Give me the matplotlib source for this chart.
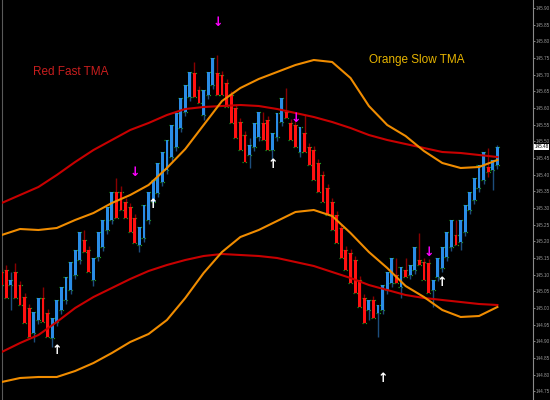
import matplotlib
matplotlib.use('Agg')
import matplotlib.pyplot as plt
import numpy as np

# candle data, one entry per bar
opens = [145.108, 145.114, 145.069, 145.108, 145.069, 145.033, 145.000, 144.925, 144.964, 145.030,
         144.985, 144.910, 144.958, 144.994, 145.024, 145.054, 145.099, 145.144, 145.204, 145.174,
         145.084, 145.153, 145.183, 145.234, 145.264, 145.348, 145.348, 145.318, 145.303, 145.270,
         145.189, 145.210, 145.264, 145.318, 145.345, 145.378, 145.414, 145.453, 145.483, 145.540,
         145.588, 145.633, 145.705, 145.654, 145.579, 145.639, 145.669, 145.705, 145.699, 145.675,
         145.639, 145.600, 145.558, 145.519, 145.459, 145.483, 145.513, 145.555, 145.564, 145.474,
         145.513, 145.558, 145.588, 145.555, 145.549, 145.468, 145.525, 145.483, 145.474, 145.435,
         145.399, 145.360, 145.318, 145.279, 145.240, 145.174, 145.165, 145.144, 145.084, 145.030,
         144.994, 145.024, 144.985, 144.994, 145.054, 145.075, 145.099, 145.063, 145.114, 145.099,
         145.114, 145.144, 145.138, 145.135, 145.054, 145.093, 145.120, 145.153, 145.183, 145.219,
         145.198, 145.228, 145.294, 145.324, 145.360, 145.384, 145.423, 145.414, 145.429]
highs = [145.120, 145.129, 145.108, 145.135, 145.081, 145.045, 145.012, 144.988, 145.030, 145.063,
         144.997, 144.970, 145.024, 145.063, 145.093, 145.138, 145.174, 145.228, 145.234, 145.186,
         145.150, 145.228, 145.264, 145.303, 145.348, 145.390, 145.366, 145.330, 145.315, 145.282,
         145.243, 145.309, 145.348, 145.384, 145.435, 145.468, 145.504, 145.549, 145.585, 145.630,
         145.669, 145.708, 145.738, 145.666, 145.654, 145.708, 145.750, 145.759, 145.711, 145.687,
         145.651, 145.612, 145.570, 145.531, 145.510, 145.555, 145.588, 145.588, 145.576, 145.525,
         145.585, 145.630, 145.660, 145.567, 145.561, 145.543, 145.579, 145.495, 145.486, 145.447,
         145.411, 145.372, 145.330, 145.291, 145.252, 145.186, 145.177, 145.156, 145.096, 145.042,
         145.024, 145.036, 145.009, 145.069, 145.108, 145.150, 145.150, 145.123, 145.150, 145.129,
         145.183, 145.225, 145.150, 145.147, 145.084, 145.150, 145.183, 145.228, 145.264, 145.264,
         145.264, 145.309, 145.348, 145.390, 145.429, 145.468, 145.480, 145.444, 145.489]
lows = [145.069, 145.030, 144.994, 145.030, 145.009, 144.955, 144.913, 144.898, 144.952, 144.958,
        144.913, 144.883, 144.946, 144.982, 145.012, 145.042, 145.087, 145.132, 145.168, 145.108,
        145.066, 145.141, 145.171, 145.222, 145.252, 145.270, 145.294, 145.270, 145.228, 145.195,
        145.168, 145.198, 145.252, 145.306, 145.333, 145.366, 145.402, 145.441, 145.471, 145.528,
        145.576, 145.621, 145.633, 145.615, 145.564, 145.627, 145.657, 145.639, 145.639, 145.603,
        145.555, 145.510, 145.474, 145.438, 145.420, 145.471, 145.501, 145.504, 145.474, 145.444,
        145.501, 145.546, 145.570, 145.504, 145.483, 145.453, 145.468, 145.429, 145.384, 145.348,
        145.318, 145.279, 145.234, 145.195, 145.150, 145.114, 145.075, 145.045, 145.003, 144.955,
        144.964, 144.970, 144.913, 144.982, 145.042, 145.063, 145.075, 145.030, 145.093, 145.087,
        145.102, 145.129, 145.084, 145.045, 145.003, 145.081, 145.108, 145.141, 145.171, 145.189,
        145.174, 145.216, 145.282, 145.312, 145.348, 145.372, 145.393, 145.354, 145.417]
closes = [145.069, 145.030, 145.084, 145.030, 145.009, 144.955, 144.913, 144.988, 145.030, 144.958,
          144.913, 144.970, 145.024, 145.063, 145.093, 145.138, 145.174, 145.228, 145.168, 145.108,
          145.150, 145.228, 145.264, 145.303, 145.348, 145.270, 145.294, 145.270, 145.228, 145.195,
          145.243, 145.309, 145.348, 145.384, 145.435, 145.468, 145.504, 145.549, 145.585, 145.630,
          145.669, 145.708, 145.633, 145.615, 145.654, 145.708, 145.750, 145.639, 145.639, 145.603,
          145.555, 145.510, 145.474, 145.438, 145.489, 145.555, 145.588, 145.504, 145.474, 145.525,
          145.585, 145.630, 145.570, 145.504, 145.483, 145.543, 145.468, 145.429, 145.384, 145.348,
          145.318, 145.279, 145.234, 145.195, 145.150, 145.114, 145.075, 145.045, 145.003, 144.955,
          145.024, 144.970, 145.009, 145.069, 145.108, 145.150, 145.075, 145.123, 145.093, 145.129,
          145.183, 145.129, 145.084, 145.045, 145.084, 145.150, 145.183, 145.228, 145.264, 145.189,
          145.264, 145.309, 145.348, 145.390, 145.429, 145.468, 145.408, 145.444, 145.483]

# TMA bands, sampled every 4 bars
band_idx = [0, 4, 8, 12, 16, 20, 24, 28, 32, 36, 40, 44, 48, 52,
            56, 60, 64, 68, 72, 76, 80, 84, 88, 92, 96, 100, 104, 108]
red_upper = [145.315, 145.339, 145.363, 145.399, 145.438, 145.474, 145.504, 145.534, 145.555, 145.579,
             145.597, 145.603, 145.606, 145.609, 145.606, 145.597, 145.585, 145.573, 145.558, 145.540,
             145.519, 145.504, 145.492, 145.480, 145.468, 145.465, 145.459, 145.453]
red_lower = [144.868, 144.895, 144.919, 144.958, 145.000, 145.033, 145.060, 145.087, 145.111, 145.129,
             145.144, 145.156, 145.162, 145.159, 145.156, 145.150, 145.138, 145.126, 145.108, 145.090,
             145.069, 145.054, 145.039, 145.030, 145.024, 145.018, 145.012, 145.009]
orange_upper = [145.219, 145.237, 145.234, 145.240, 145.264, 145.285, 145.315, 145.339, 145.369, 145.420,
                145.477, 145.549, 145.621, 145.660, 145.687, 145.708, 145.729, 145.744, 145.738, 145.690,
                145.606, 145.549, 145.516, 145.471, 145.435, 145.420, 145.423, 145.444]
orange_lower = [144.778, 144.790, 144.793, 144.793, 144.811, 144.835, 144.865, 144.898, 144.922, 144.964,
                145.030, 145.105, 145.168, 145.213, 145.234, 145.261, 145.288, 145.294, 145.276, 145.225,
                145.168, 145.120, 145.066, 145.033, 144.994, 144.973, 144.976, 145.003]

# signal arrows
sell_idx = [29, 47, 64, 93]
sell_price = [145.408, 145.858, 145.570, 145.165]
buy_idx = [12, 33, 59, 83, 96]
buy_price = [144.874, 145.309, 145.429, 144.790, 145.078]

price_ticks = [145.90, 145.85, 145.80, 145.75, 145.70, 145.65, 145.60, 145.55, 145.50, 145.45, 145.40, 145.35,
               145.30, 145.25, 145.20, 145.15, 145.10, 145.05, 145.00, 144.95, 144.90, 144.85, 144.80, 144.75]

fig = plt.figure(figsize=(5.5, 4), dpi=100, facecolor='black')
ax = fig.add_axes([0.003, 0.0, 0.966, 1.0], facecolor='black')

x = np.arange(len(opens))
o = np.array(opens)
c = np.array(closes)
up = c >= o

# open/close markers
ax.hlines(o, x - 0.55, x + 0.55, colors='#1f9a1f', linestyles=':', lw=0.9, zorder=1)
ax.hlines(c, x - 0.55, x + 0.55, colors='#1f9a1f', linestyles=':', lw=0.9, zorder=1)

# wicks
ax.vlines(x[up], np.array(lows)[up], np.array(highs)[up], colors='#1d4d7c', lw=1.0, zorder=2)
ax.vlines(x[~up], np.array(lows)[~up], np.array(highs)[~up], colors='#8a0000', lw=1.0, zorder=2)

# bodies
bottom = np.minimum(o, c)
height = np.abs(c - o)
ax.bar(x[up], height[up], bottom=bottom[up], width=0.62, color='#2a8ce6', zorder=3)
ax.bar(x[~up], height[~up], bottom=bottom[~up], width=0.62, color='#ff1111', zorder=3)

# TMA bands
ax.plot(band_idx, red_upper, color='#c80000', lw=1.5, zorder=4)
ax.plot(band_idx, red_lower, color='#c80000', lw=1.5, zorder=4)
ax.plot(band_idx, orange_upper, color='#f08c00', lw=1.5, zorder=4)
ax.plot(band_idx, orange_lower, color='#f08c00', lw=1.5, zorder=4)

for i, p in zip(sell_idx, sell_price):
    ax.text(i, p, '↓', color='#ff00ff', fontsize=9, fontweight='bold', ha='center', va='center', zorder=5)
for i, p in zip(buy_idx, buy_price):
    ax.text(i, p, '↑', color='white', fontsize=9, fontweight='bold', ha='center', va='center', zorder=5)

ax.text(15.1, 145.708, 'Red Fast TMA', color='#c81e1e', fontsize=8.5,
        family='Liberation Sans', ha='center', va='center')
ax.text(90.5, 145.744, 'Orange Slow TMA', color='#e6b400', fontsize=8.5,
        family='Liberation Sans', ha='center', va='center')

ax.set_xlim(-0.01, 115.75)
ax.set_ylim(144.724, 145.924)
ax.set_xticks([])
ax.yaxis.tick_right()
ax.set_yticks(price_ticks)
ax.set_yticklabels(['{:.2f}'.format(t) for t in price_ticks], family='Liberation Sans')
ax.tick_params(axis='y', colors='#9a9a9a', labelsize=3.3, length=1.5, width=0.6, pad=0.8)

for side in ['top', 'bottom']:
    ax.spines[side].set_visible(False)
ax.spines['right'].set_color('#8a8a8a')
ax.spines['left'].set_color('#5a5a5a')

# current price tag
ax.text(1.003, closes[-1], '{:.2f}'.format(closes[-1]), transform=ax.get_yaxis_transform(),
        fontsize=3.3, family='Liberation Sans', color='black', va='center', ha='left',
        bbox=dict(facecolor='white', edgecolor='none', pad=0.5))

fig.savefig('out.png', dpi=100, facecolor='black')
